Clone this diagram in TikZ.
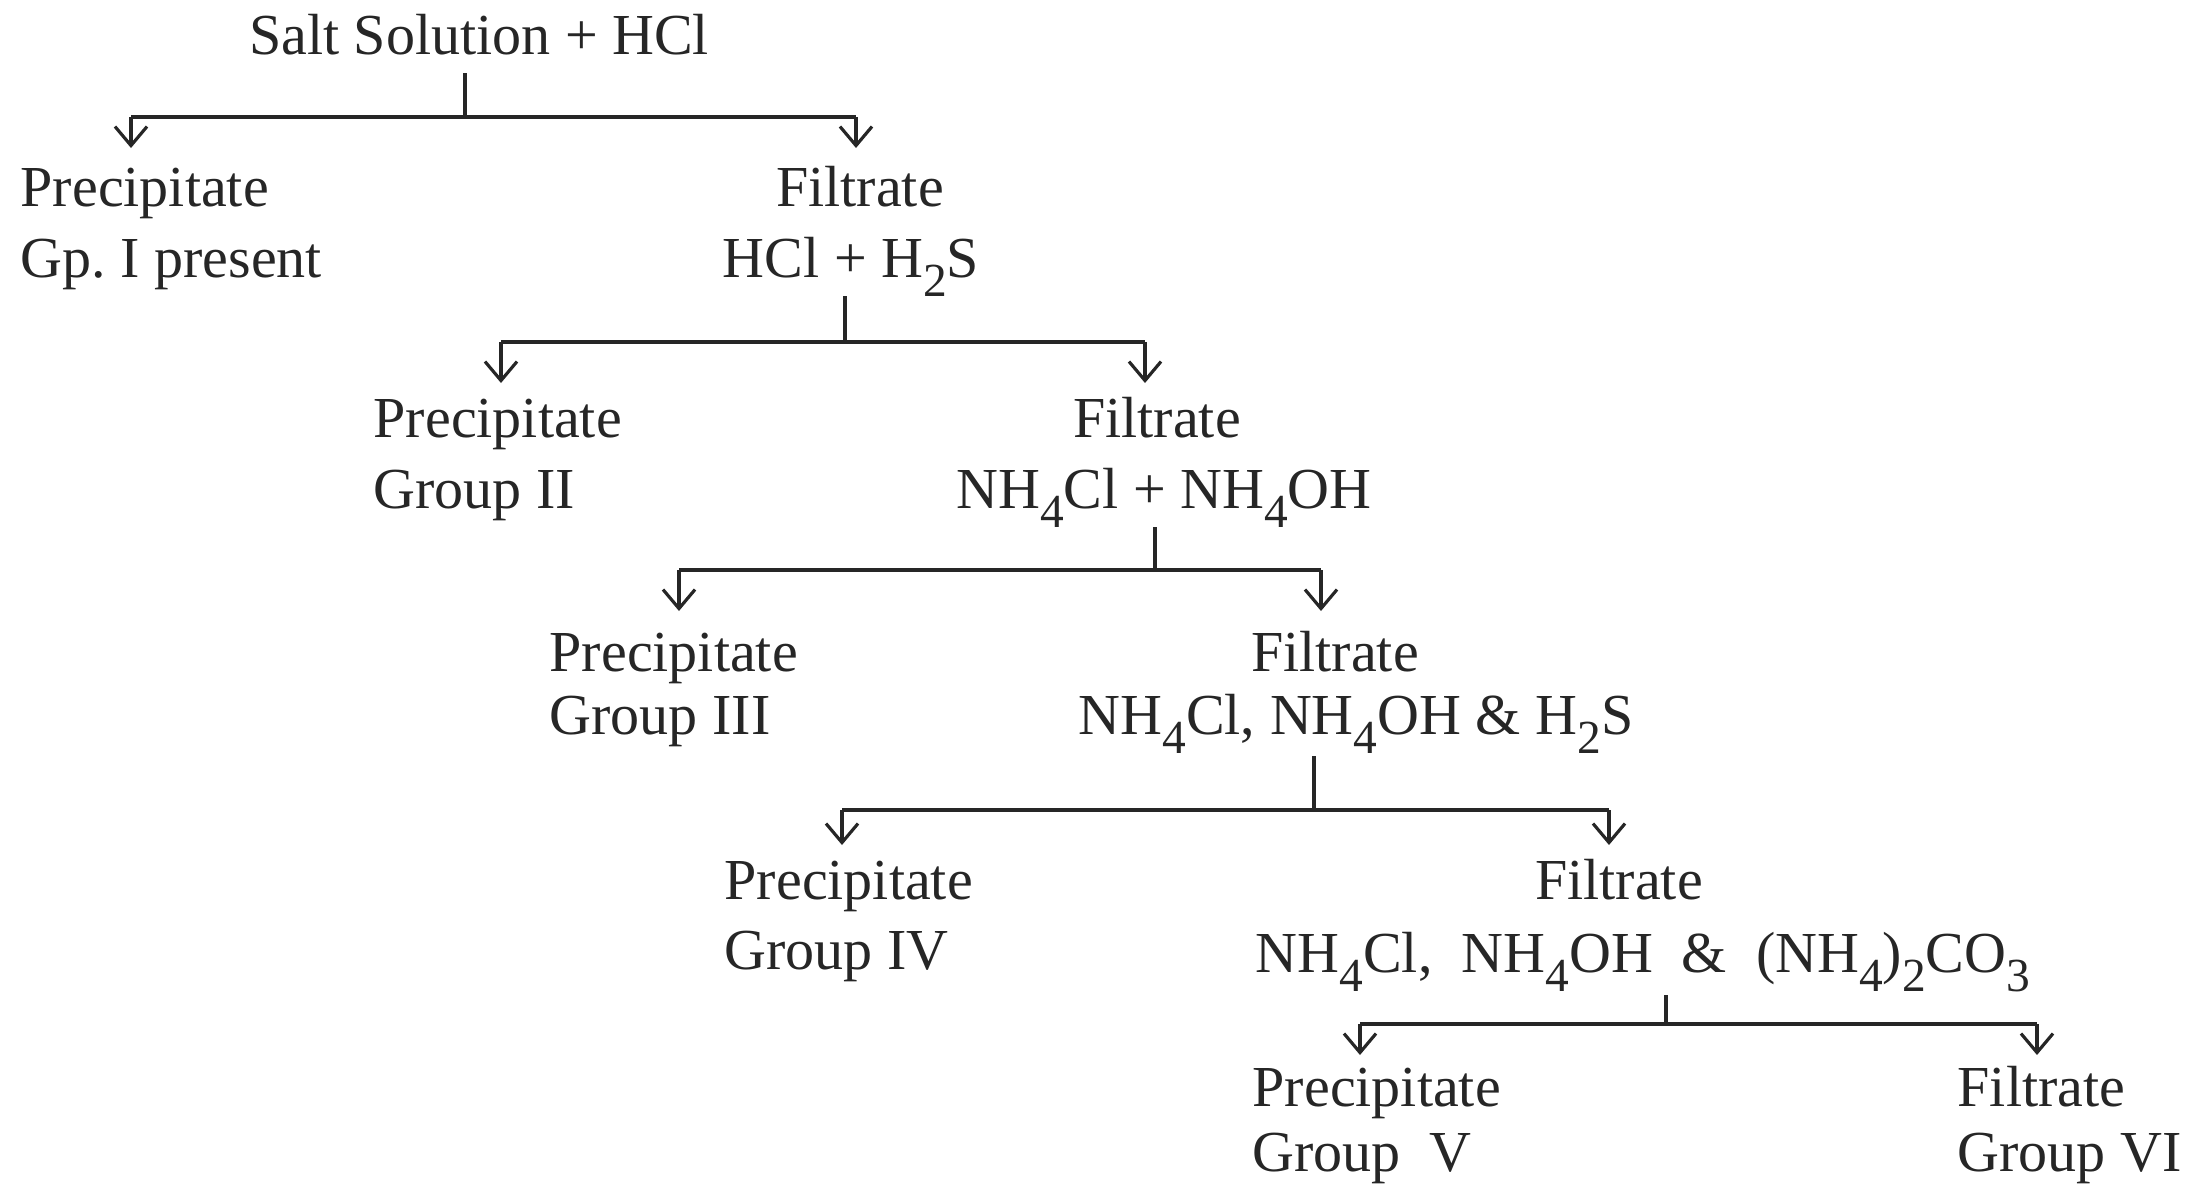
\documentclass[tikz,border=0pt]{standalone}
\usepackage{fontspec}
\setmainfont{Liberation Serif}
\usetikzlibrary{arrows.meta}
\frenchspacing
\newcommand{\sbs}[1]{\raisebox{-0.34em}{\fontsize{13.5}{13.5}\selectfont #1}}
\begin{document}
\begin{tikzpicture}[x=0.01cm,y=-0.01cm,
  lbl/.style={inner sep=0pt,font=\fontsize{16.5}{18}\selectfont,text=black!85},
  lw/.style={lbl,anchor=base west},
  lc/.style={lbl,anchor=base},
  ln/.style={line width=1pt,black!85},
  arr/.style={ln,-{Straight Barb[length=1.9mm,width=3.2mm,line width=0.9pt]}}]
\useasboundingbox (0,0) rectangle (2208,1184);
% level 0
\node[lc] (t0) at (479,54) {Salt Solution + HCl};
% level 1
\node[lw] (p1a) at (20,206) {Precipitate};
\node[lw] (p1b) at (20,277) {Gp.\ I present};
\node[lc] (f1a) at (860,206) {Filtrate};
\node[lc] (f1b) at (851,277) {HCl + H\sbs2S};
% level 2
\node[lw] (p2a) at (373,437) {Precipitate};
\node[lw] (p2b) at (373,508) {Group II};
\node[lc] (f2a) at (1157,437) {Filtrate};
\node[lc] (f2b) at (1164,508) {NH\sbs4Cl + NH\sbs4OH};
% level 3
\node[lw] (p3a) at (549,671) {Precipitate};
\node[lw] (p3b) at (549,734) {Group III};
\node[lc] (f3a) at (1335,671) {Filtrate};
\node[lc] (f3b) at (1356,734) {NH\sbs4Cl, NH\sbs4OH \& H\sbs2S};
% level 4
\node[lw] (p4a) at (724,899) {Precipitate};
\node[lw] (p4b) at (724,969) {Group IV};
\node[lc] (f4a) at (1619,899) {Filtrate};
\node[lc] (f4b) at (1643,972) {NH\sbs4Cl,\ \ NH\sbs4OH\ \ \&\ \ (NH\sbs4)\sbs2CO\sbs3};
% level 5
\node[lw] (p5a) at (1252,1106) {Precipitate};
\node[lw] (p5b) at (1252,1171) {Group\ \ V};
\node[lw] (f5a) at (1957,1106) {Filtrate};
\node[lw] (f5b) at (1957,1171) {Group VI};
% junction coordinates
\coordinate (s1) at (465,73);   \coordinate (j1) at (465,117);
\coordinate (l1) at (131,117);  \coordinate (r1) at (856,117);
\coordinate (e1l) at (131,148); \coordinate (e1r) at (856,148);
\coordinate (s2) at (845,296);  \coordinate (j2) at (845,342);
\coordinate (l2) at (501,342);  \coordinate (r2) at (1145,342);
\coordinate (e2l) at (501,383); \coordinate (e2r) at (1145,383);
\coordinate (s3) at (1155,527); \coordinate (j3) at (1155,570);
\coordinate (l3) at (679,570);  \coordinate (r3) at (1321,570);
\coordinate (e3l) at (679,611); \coordinate (e3r) at (1321,611);
\coordinate (s4) at (1314,756); \coordinate (j4) at (1314,810);
\coordinate (l4) at (842,810);  \coordinate (r4) at (1609,810);
\coordinate (e4l) at (842,845); \coordinate (e4r) at (1609,845);
\coordinate (s5) at (1666,995); \coordinate (j5) at (1666,1024);
\coordinate (l5) at (1360,1024); \coordinate (r5) at (2037,1024);
\coordinate (e5l) at (1360,1055); \coordinate (e5r) at (2037,1055);
% connectors
\foreach \i in {1,...,5}{
  \draw[ln] (s\i) -- (j\i);
  \draw[ln] (l\i) -- (r\i);
  \draw[arr] (l\i) -- (e\i l);
  \draw[arr] (r\i) -- (e\i r);
}
\end{tikzpicture}
\end{document}
